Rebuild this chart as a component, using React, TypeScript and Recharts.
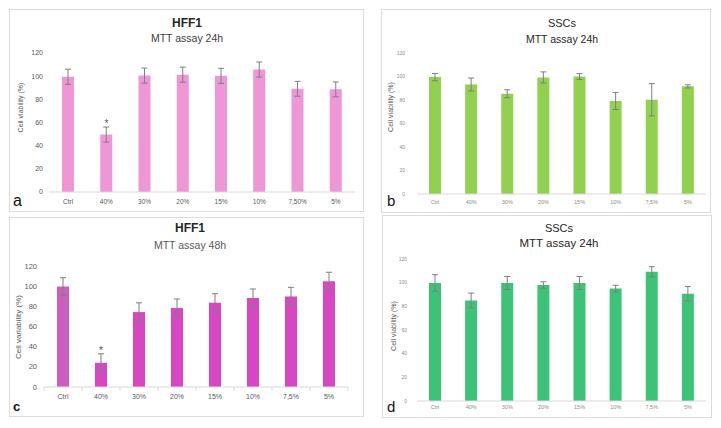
import React from 'react';
import { BarChart, Bar, XAxis, YAxis, ErrorBar, ReferenceDot, Cell } from 'recharts';

// categories (panel a writes 7,50% on its axis)
const hff24Categories = ['Ctrl', '40%', '30%', '20%', '15%', '10%', '7,50%', '5%'];
const concCategories = ['Ctrl', '40%', '30%', '20%', '15%', '10%', '7,5%', '5%'];
const yTicks = [0, 20, 40, 60, 80, 100, 120];

// a - HFF1, MTT 24h
const hff24Values = [99.5, 49.6, 100.5, 101.3, 100.3, 105.7, 89.1, 88.6];
const hff24Errors = [6.5, 6.5, 6.5, 6.5, 6.5, 6.5, 6.4, 6.4];

// b - SSCs, MTT 24h
const sscAValues = [99.5, 93.2, 85.3, 99.2, 100, 79.1, 80.2, 91.6];
const sscAErrors = [3.1, 5.5, 3.4, 4.7, 2.5, 7.2, 13.7, 1.3];

// c - HFF1, MTT 48h
const hff48Values = [99.7, 24, 74.3, 78.3, 83.6, 88.2, 89.8, 104.9];
const hff48Errors = [8.7, 8.9, 9.2, 9, 8.9, 9, 9, 8.9];

// d - SSCs, MTT 24h
const sscBValues = [99.7, 85, 99.7, 98, 99.7, 95, 109.3, 90.7];
const sscBErrors = [7, 6.2, 5.5, 2.7, 5.5, 2.8, 4.2, 6];

const significantCategory = '40%';

const FONT = '"Liberation Sans", Arial, sans-serif';

type Box = { left: number; top: number; width: number; height: number };
type Plot = { left: number; top: number; right: number; bottom: number };
type TextSpec = { text: string; x: number; y: number; size: number; weight?: number; color: string };

interface PanelProps {
  box: Box;
  plot: Plot;
  categories: string[];
  values: number[];
  errors: number[];
  colors: string[];
  star?: { size: number };
  yTickSize: number;
  yTickMargin: number;
  yTickColor: string;
  xTickSize: number;
  xTickMargin: number;
  xTickColor: string;
  boundaryTicks?: boolean;
  texts: TextSpec[];
  yLabel: TextSpec;
  letter: TextSpec;
}

const Panel = (p: PanelProps) => {
  const data = p.categories.map((name, i) => ({ name, value: p.values[i], err: p.errors[i] }));
  const yW = p.plot.left - 2;
  const xH = p.box.height - p.plot.bottom;
  const band = (p.plot.right - p.plot.left) / p.categories.length;
  const starIdx = p.categories.indexOf(significantCategory);

  const xTick = (props: any) => {
    const { x, y, payload, index } = props;
    return (
      <g>
        {p.boundaryTicks && (
          <line x1={x - band / 2} x2={x - band / 2} y1={y - p.xTickMargin} y2={y - p.xTickMargin + 4} stroke="#d9d9d9" />
        )}
        {p.boundaryTicks && index === p.categories.length - 1 && (
          <line x1={x + band / 2} x2={x + band / 2} y1={y - p.xTickMargin} y2={y - p.xTickMargin + 4} stroke="#d9d9d9" />
        )}
        <text x={x} y={y} dy="0.71em" textAnchor="middle" fontSize={p.xTickSize} fill={p.xTickColor} fontFamily={FONT}>
          {payload.value}
        </text>
      </g>
    );
  };

  return (
    <div
      style={{
        position: 'absolute',
        left: p.box.left,
        top: p.box.top,
        width: p.box.width,
        height: p.box.height,
        border: '1px solid #dcdcdc',
        boxSizing: 'border-box',
        background: '#fff',
      }}
    >
      <div style={{ position: 'absolute', left: -1, top: -1 }}>
        <BarChart
          width={p.box.width}
          height={p.box.height}
          data={data}
          margin={{ top: p.plot.top, right: p.box.width - p.plot.right, bottom: 0, left: p.plot.left - yW }}
          style={{ fontFamily: FONT }}
        >
          <XAxis
            dataKey="name"
            height={xH}
            interval={0}
            axisLine={{ stroke: '#d9d9d9' }}
            tickLine={false}
            tickSize={0}
            tickMargin={p.xTickMargin}
            tick={xTick}
          />
          <YAxis
            domain={[0, 120]}
            ticks={yTicks}
            width={yW}
            axisLine={false}
            tickLine={false}
            tickSize={0}
            tickMargin={p.yTickMargin}
            tick={{ fontSize: p.yTickSize, fill: p.yTickColor, fontFamily: FONT }}
          />
          <Bar dataKey="value" barSize={12} isAnimationActive={false}>
            {data.map((d, i) => (
              <Cell key={d.name} fill={p.colors[i % p.colors.length]} />
            ))}
            <ErrorBar dataKey="err" width={3} stroke="#7f7f7f" strokeWidth={1} />
          </Bar>
          {p.star && starIdx >= 0 && (
            <ReferenceDot
              x={significantCategory}
              y={p.values[starIdx] + p.errors[starIdx]}
              r={0}
              ifOverflow="visible"
              label={{ value: '*', position: 'top', offset: 0, fontSize: p.star.size, fill: '#595959', fontFamily: FONT }}
            />
          )}
        </BarChart>
      </div>
      <svg
        width={p.box.width}
        height={p.box.height}
        style={{ position: 'absolute', left: -1, top: -1, pointerEvents: 'none', fontFamily: FONT }}
      >
        {p.texts.map((t) => (
          <text
            key={t.text}
            x={t.x}
            y={t.y}
            textAnchor="middle"
            dominantBaseline="central"
            fontSize={t.size}
            fontWeight={t.weight ?? 400}
            fill={t.color}
          >
            {t.text}
          </text>
        ))}
        <text
          x={p.yLabel.x}
          y={p.yLabel.y}
          textAnchor="middle"
          dominantBaseline="central"
          fontSize={p.yLabel.size}
          fill={p.yLabel.color}
          transform={`rotate(-90 ${p.yLabel.x} ${p.yLabel.y})`}
        >
          {p.yLabel.text}
        </text>
        <text x={p.letter.x} y={p.letter.y} fontSize={p.letter.size} fontWeight={p.letter.weight ?? 400} fill={p.letter.color}>
          {p.letter.text}
        </text>
      </svg>
    </div>
  );
};

const App = () => (
  <div style={{ position: 'absolute', left: 0, top: 0, width: 721, height: 428, background: '#fff', overflow: 'hidden' }}>
    <Panel
      box={{ left: 9, top: 9, width: 355, height: 203 }}
      plot={{ left: 40, top: 44, right: 346, bottom: 183 }}
      categories={hff24Categories}
      values={hff24Values}
      errors={hff24Errors}
      colors={['#EE96D6']}
      star={{ size: 10 }}
      yTickSize={7}
      yTickMargin={6}
      yTickColor="#595959"
      xTickSize={6.5}
      xTickMargin={7.5}
      xTickColor="#595959"
      texts={[
        { text: 'HFF1', x: 178, y: 14, size: 12, weight: 700, color: '#262626' },
        { text: 'MTT assay 24h', x: 178, y: 29, size: 10.5, color: '#404040' },
      ]}
      yLabel={{ text: 'Cell viability (%)', x: 11, y: 98.5, size: 7, color: '#595959' }}
      letter={{ text: 'a', x: 4, y: 197, size: 16, color: '#111' }}
    />
    <Panel
      box={{ left: 381, top: 9, width: 330, height: 204 }}
      plot={{ left: 36, top: 44, right: 325, bottom: 185 }}
      categories={concCategories}
      values={sscAValues}
      errors={sscAErrors}
      colors={['#92D050']}
      yTickSize={5}
      yTickMargin={12}
      yTickColor="#8c8c8c"
      xTickSize={5.5}
      xTickMargin={6}
      xTickColor="#8c8c8c"
      texts={[
        { text: 'SSCs', x: 181, y: 14, size: 11, color: '#262626' },
        { text: 'MTT assay 24h', x: 181, y: 30, size: 10.5, color: '#262626' },
      ]}
      yLabel={{ text: 'Cell viability  (%)', x: 9, y: 98, size: 7, color: '#595959' }}
      letter={{ text: 'b', x: 6, y: 197, size: 15, color: '#111' }}
    />
    <Panel
      box={{ left: 9, top: 217, width: 355, height: 200 }}
      plot={{ left: 35, top: 49, right: 339, bottom: 170 }}
      categories={concCategories}
      values={hff48Values}
      errors={hff48Errors}
      colors={['#CC5FBE', '#D846C4', '#D846C4', '#D846C4', '#D846C4', '#D846C4', '#D846C4', '#D846C4']}
      star={{ size: 11 }}
      yTickSize={7.5}
      yTickMargin={7}
      yTickColor="#595959"
      xTickSize={7}
      xTickMargin={7.5}
      xTickColor="#595959"
      boundaryTicks
      texts={[
        { text: 'HFF1', x: 181, y: 11, size: 12, weight: 700, color: '#262626' },
        { text: 'MTT assay 48h', x: 181, y: 28, size: 10.5, color: '#595959' },
      ]}
      yLabel={{ text: 'Cell variability (%)', x: 9, y: 110, size: 8, color: '#595959' }}
      letter={{ text: 'c', x: 4, y: 194, size: 13, weight: 700, color: '#111' }}
    />
    <Panel
      box={{ left: 382, top: 215, width: 330, height: 203 }}
      plot={{ left: 35, top: 44, right: 324, bottom: 186 }}
      categories={concCategories}
      values={sscBValues}
      errors={sscBErrors}
      colors={['#3CC378']}
      yTickSize={5}
      yTickMargin={10}
      yTickColor="#8c8c8c"
      xTickSize={5.5}
      xTickMargin={4.3}
      xTickColor="#8c8c8c"
      texts={[
        { text: 'SSCs', x: 177, y: 13, size: 11, color: '#262626' },
        { text: 'MTT assay 24h', x: 177, y: 28, size: 11.5, color: '#262626' },
      ]}
      yLabel={{ text: 'Cell viability  (%)', x: 11, y: 111, size: 7, color: '#595959' }}
      letter={{ text: 'd', x: 5, y: 197, size: 15, color: '#111' }}
    />
  </div>
);

export default App;
